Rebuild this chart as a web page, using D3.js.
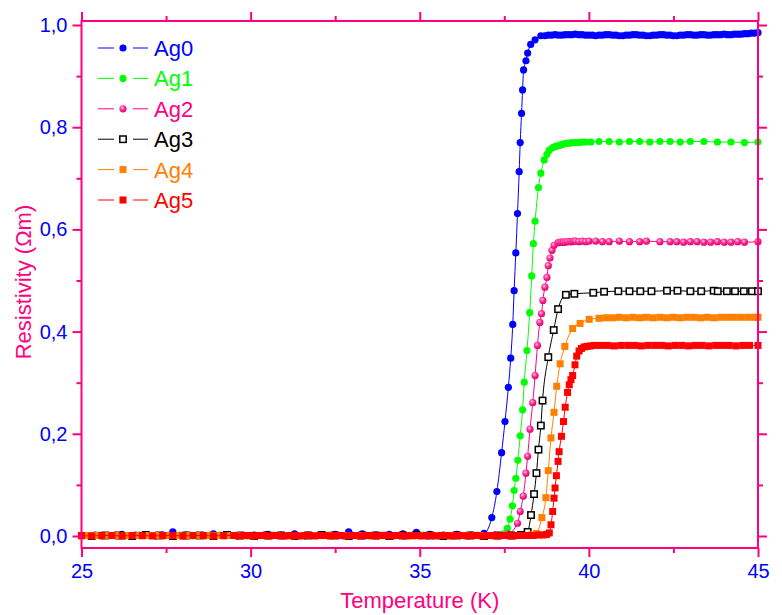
<!DOCTYPE html>
<html>
<head>
<meta charset="utf-8">
<script src="https://cdn.jsdelivr.net/npm/d3@7/dist/d3.min.js"></script>
<style>
body { margin: 0; background: #fff; }
text { font-family: "Liberation Sans", Arial, sans-serif; }
</style>
</head>
<body>
<script>

// ---- data (T in K, resistivity in Ohm m) ----
var seriesNames = ["Ag0", "Ag1", "Ag2", "Ag3", "Ag4", "Ag5"]
var seriesColors = ["#0000ff", "#00ff00", "#ff0080", "#000000", "#ff8000", "#ff0000"]
var markerKinds = ["circle", "circle", "sphere", "opensquare", "square", "square"]

var xTicks = [25, 30, 35, 40, 45]
var xMinor = [27.5, 32.5, 37.5, 42.5]
var yTicks = [0, 0.2, 0.4, 0.6, 0.8, 1.0]
var yMinor = [0.1, 0.3, 0.5, 0.7, 0.9]

var ag0 = [
[25.0,0.001],[25.4,0.002],[25.8,0.001],[26.2,0.003],[26.6,0.002],[27.0,0.001],[27.4,0.002],[27.7,0.008],
[28.1,0.002],[28.5,0.001],[28.9,0.004],[29.3,0.002],[29.7,0.001],[30.1,0.002],[30.5,0.003],[30.9,0.002],
[31.3,0.004],[31.7,0.002],[32.1,0.001],[32.5,0.003],[32.9,0.008],[33.3,0.004],[33.7,0.002],[34.1,0.003],
[34.5,0.004],[34.9,0.007],[35.3,0.003],[35.7,0.002],[36.1,0.003],[36.5,0.002],[36.9,0.005],
[37.13,0.036],[37.28,0.087],[37.42,0.163],[37.52,0.224],[37.62,0.291],[37.69,0.348],[37.75,0.414],
[37.79,0.480],[37.84,0.554],[37.89,0.631],[37.94,0.713],[37.97,0.770],[38.01,0.827],[38.04,0.873],
[38.07,0.912],[38.14,0.930],[38.19,0.945],[38.28,0.962],[38.41,0.971],[38.58,0.979],
[38.7,0.979],[38.8,0.980],[38.9,0.980],[39.0,0.981],[39.1,0.980],[39.2,0.980],[39.3,0.981],[39.4,0.981],
[39.5,0.981],[39.6,0.982],[39.7,0.981],[39.8,0.981],[39.9,0.980],[40.0,0.980],[40.1,0.980],[40.2,0.979],
[40.3,0.980],[40.4,0.980],[40.5,0.981],[40.6,0.981],[40.7,0.980],[40.8,0.980],[40.9,0.979],[41.0,0.979],
[41.1,0.980],[41.2,0.980],[41.3,0.981],[41.4,0.981],[41.5,0.980],[41.6,0.980],[41.7,0.979],[41.8,0.979],
[41.9,0.980],[42.0,0.980],[42.1,0.981],[42.2,0.981],[42.3,0.980],[42.4,0.980],[42.5,0.979],[42.6,0.979],
[42.7,0.980],[42.8,0.980],[42.9,0.981],[43.0,0.981],[43.1,0.980],[43.2,0.980],[43.3,0.981],[43.4,0.981],
[43.5,0.980],[43.6,0.980],[43.7,0.981],[43.8,0.981],[43.9,0.981],[44.0,0.982],[44.1,0.981],[44.2,0.981],
[44.3,0.982],[44.4,0.982],[44.5,0.982],[44.6,0.983],[44.7,0.983],[44.8,0.984],[44.9,0.984],[45.0,0.985]
]

var ag1 = [
[25.1,0.001],[25.5,0.002],[25.9,0.001],[26.3,0.000],[26.7,0.002],[27.1,0.001],[27.5,0.001],[27.9,0.002],
[28.3,0.000],[28.7,0.001],[29.1,0.002],[29.5,0.001],[29.9,0.000],[30.3,0.001],[30.7,0.002],[31.1,0.001],
[31.5,0.000],[31.9,0.001],[32.3,0.002],[32.7,0.001],[33.1,0.001],[33.5,0.000],[33.9,0.002],[34.3,0.001],
[34.7,0.001],[35.1,0.002],[35.5,0.001],[35.9,0.000],[36.3,0.001],[36.7,0.002],[37.1,0.001],[37.49,0.004],
[37.59,0.015],[37.67,0.033],[37.74,0.059],[37.79,0.089],[37.84,0.113],[37.90,0.148],[37.97,0.196],
[38.04,0.247],[38.09,0.301],[38.17,0.363],[38.25,0.437],[38.31,0.509],[38.36,0.572],[38.41,0.616],
[38.51,0.682],[38.58,0.710],[38.68,0.736],[38.76,0.747],[38.83,0.755],[38.93,0.760],[39.0,0.762],
[39.05,0.763],[39.1,0.764],[39.15,0.765],[39.2,0.766],[39.25,0.767],[39.3,0.768],[39.37,0.769],
[39.45,0.769],[39.5,0.770],[39.6,0.770],[39.7,0.770],[39.8,0.771],[39.9,0.771],[40.06,0.771],
[40.3,0.772],[40.6,0.772],[40.9,0.771],[41.2,0.772],[41.5,0.772],[41.8,0.771],[42.1,0.772],[42.4,0.772],
[42.7,0.771],[43.0,0.772],[43.4,0.772],[43.8,0.771],[44.2,0.771],[44.6,0.770],[45.0,0.771]
]

var ag2 = [
[25.2,0.001],[25.6,0.000],[26.0,0.002],[26.4,0.001],[26.8,0.001],[27.2,0.000],[27.6,0.002],[28.0,0.001],
[28.4,0.001],[28.8,0.002],[29.2,0.001],[29.6,0.000],[30.0,0.001],[30.4,0.002],[30.8,0.001],[31.2,0.001],
[31.6,0.000],[32.0,0.001],[32.4,0.002],[32.8,0.001],[33.2,0.000],[33.6,0.001],[34.0,0.002],[34.4,0.001],
[34.8,0.001],[35.2,0.000],[35.6,0.001],[36.0,0.002],[36.4,0.001],[36.8,0.001],[37.2,0.002],[37.6,0.004],
[37.89,0.025],[37.97,0.048],[38.06,0.078],[38.14,0.123],[38.19,0.156],[38.26,0.209],[38.34,0.261],
[38.41,0.314],[38.48,0.373],[38.55,0.418],[38.60,0.435],[38.64,0.461],[38.70,0.487],[38.76,0.506],
[38.80,0.529],[38.85,0.544],[38.91,0.559],[38.97,0.569],[39.09,0.574],[39.15,0.575],[39.2,0.575],
[39.25,0.575],[39.3,0.575],[39.37,0.576],[39.45,0.576],[39.5,0.576],[39.55,0.577],[39.6,0.577],
[39.7,0.576],[39.8,0.577],[39.9,0.576],[40.0,0.577],
[40.2,0.577],[40.4,0.576],[40.6,0.576],[40.9,0.577],[41.2,0.576],[41.5,0.576],[41.7,0.577],[42.1,0.576],
[42.4,0.576],[42.6,0.576],[42.8,0.575],[43.0,0.576],[43.2,0.576],[43.4,0.575],[43.6,0.575],[43.8,0.576],
[44.0,0.575],[44.2,0.575],[44.4,0.576],[44.6,0.575],[45.0,0.576]
]

var ag3 = [
[25.3,0.000],[25.7,0.001],[26.1,0.001],[26.5,0.000],[26.9,0.002],[27.3,0.001],[27.7,0.000],[28.1,0.001],
[28.5,0.001],[28.9,0.000],[29.3,0.002],[29.7,0.001],[30.1,0.000],[30.5,0.001],[30.9,0.001],[31.3,0.000],
[31.7,0.001],[32.1,0.002],[32.5,0.001],[32.9,0.000],[33.3,0.001],[33.7,0.001],[34.1,0.000],[34.5,0.001],
[34.9,0.002],[35.3,0.001],[35.7,0.000],[36.1,0.001],[36.5,0.001],[36.9,0.000],[37.3,0.001],[37.7,0.001],
[38.0,0.002],[38.19,0.008],[38.29,0.041],[38.38,0.082],[38.45,0.123],[38.51,0.169],[38.58,0.216],
[38.63,0.265],[38.80,0.350],[38.96,0.403],[39.09,0.444],[39.32,0.472],[39.57,0.474],[40.13,0.476],
[40.45,0.478],[40.87,0.479],[41.20,0.479],[41.52,0.479],[41.85,0.479],[42.31,0.480],[42.62,0.480],
[43.00,0.479],[43.32,0.479],[43.69,0.480],[43.81,0.479],[44.08,0.479],[44.32,0.479],[44.58,0.479],
[44.82,0.479],[45.0,0.479]
]

var ag4 = [
[25.0,0.000],[25.2,0.001],[25.4,0.001],[25.6,0.000],[25.8,0.001],[26.0,0.001],[26.2,0.000],[26.4,0.001],
[26.6,0.001],[26.8,0.000],[27.0,0.001],[27.2,0.001],[27.4,0.000],[27.6,0.001],[27.8,0.001],[28.0,0.000],
[28.2,0.001],[28.4,0.001],[28.6,0.000],[28.8,0.001],[29.0,0.001],[29.2,0.000],[29.4,0.001],[29.6,0.001],
[30.0,0.000],[30.4,0.001],[30.8,0.001],[31.2,0.000],[31.6,0.001],[32.0,0.001],[32.4,0.000],[32.8,0.001],
[33.2,0.001],[33.6,0.000],[34.0,0.001],[34.4,0.001],[34.8,0.000],[35.2,0.001],[35.6,0.001],[36.0,0.000],
[36.4,0.001],[36.8,0.001],[37.2,0.000],[37.6,0.001],[38.0,0.001],[38.3,0.002],[38.45,0.005],
[38.61,0.036],[38.73,0.075],[38.80,0.128],[38.88,0.192],
[38.97,0.242],[39.05,0.293],[39.15,0.337],[39.29,0.371],[39.52,0.406],[39.74,0.416],[40.01,0.424],
[40.3,0.426],[40.5,0.427],[40.7,0.427],[40.9,0.428],[41.1,0.427],[41.3,0.428],[41.5,0.427],[41.7,0.428],
[41.9,0.427],[42.1,0.428],[42.3,0.427],[42.5,0.428],[42.7,0.427],[42.9,0.428],[43.1,0.428],[43.3,0.427],
[43.5,0.428],[43.7,0.427],[43.9,0.428],[44.1,0.428],[44.3,0.428],[44.5,0.428],[44.7,0.428],[44.9,0.428],[45.0,0.428]
]

var ag5 = [
[25.0,0.001],[25.3,0.000],[25.6,0.001],[25.9,0.001],[26.2,0.000],[26.5,0.001],[26.8,0.001],[27.1,0.000],
[27.4,0.001],[27.7,0.001],[28.0,0.000],[28.3,0.001],[28.6,0.001],[28.9,0.000],[29.2,0.001],
[29.50,0.001],[29.65,0.000],[29.80,0.001],[29.95,0.001],[30.10,0.000],[30.25,0.001],[30.40,0.001],
[30.55,0.000],[30.70,0.001],[30.85,0.001],[31.00,0.000],[31.15,0.001],[31.30,0.001],[31.45,0.000],
[31.60,0.001],[31.75,0.001],[31.90,0.000],[32.05,0.001],[32.20,0.001],[32.35,0.000],[32.50,0.001],
[32.65,0.001],[32.80,0.000],[32.95,0.001],[33.10,0.001],[33.25,0.000],[33.40,0.001],[33.55,0.001],
[33.70,0.000],[33.85,0.001],[34.00,0.001],[34.15,0.000],[34.30,0.001],[34.45,0.001],[34.60,0.000],
[34.75,0.001],[34.90,0.001],[35.05,0.000],[35.20,0.001],[35.35,0.001],[35.50,0.000],[35.65,0.001],
[35.80,0.001],[35.95,0.000],[36.10,0.001],[36.25,0.001],[36.40,0.000],[36.55,0.001],[36.70,0.001],
[36.85,0.000],[37.00,0.001],[37.15,0.001],[37.30,0.000],[37.45,0.001],[37.60,0.001],[37.75,0.000],
[37.90,0.001],[38.05,0.001],[38.20,0.001],[38.35,0.001],[38.50,0.002],[38.65,0.002],[38.75,0.003],
[38.83,0.006],[38.88,0.022],[38.93,0.048],[38.97,0.074],[39.00,0.094],[39.04,0.118],[39.09,0.146],
[39.12,0.165],[39.19,0.195],[39.25,0.224],[39.30,0.252],[39.37,0.281],[39.42,0.296],[39.47,0.306],
[39.52,0.314],[39.59,0.335],[39.64,0.352],[39.71,0.362],[39.78,0.367],[39.86,0.370],[39.95,0.371],
[40.05,0.372],[40.16,0.373],[40.35,0.373],[40.55,0.373],[40.75,0.372],[40.95,0.373],[41.15,0.373],
[41.35,0.373],[41.55,0.372],[41.75,0.373],[41.95,0.373],[42.15,0.373],[42.35,0.372],[42.55,0.373],
[42.75,0.373],[42.95,0.372],[43.15,0.373],[43.35,0.373],[43.55,0.372],[43.75,0.373],[43.95,0.373],
[44.15,0.373],[44.35,0.372],[44.55,0.373],[44.75,0.373],[45.0,0.373]
]

var seriesData = [ag0, ag1, ag2, ag3, ag4, ag5]

// ---- layout ----
var W = 782, H = 615
var pink = "#ff0080", tickBlue = "#0000ff"

var svg = d3.select("body").append("svg").attr("width", W).attr("height", H)

var x = d3.scaleLinear().domain([25, 45]).range([81.5, 758])
var y = d3.scaleLinear().domain([0, 1]).range([536, 25])
var frameTop = 21, frameBottom = 548

var defs = svg.append("defs")
var grad = defs.append("radialGradient").attr("id", "sphere")
  .attr("cx", "40%").attr("cy", "35%").attr("r", "65%")
grad.append("stop").attr("offset", "0%").attr("stop-color", "#ffd0e6")
grad.append("stop").attr("offset", "45%").attr("stop-color", "#ff3399")
grad.append("stop").attr("offset", "100%").attr("stop-color", "#e0006e")

defs.append("clipPath").attr("id", "clip").append("rect")
  .attr("x", x(25) - 4).attr("y", frameTop).attr("width", x(45) - x(25) + 8).attr("height", frameBottom - frameTop)

function drawMarker(g, kind, color, cx, cy) {
  if (kind == "circle") {
    g.append("circle").attr("cx", cx).attr("cy", cy).attr("r", 3.6).attr("fill", color)
  } else if (kind == "sphere") {
    g.append("circle").attr("cx", cx).attr("cy", cy).attr("r", 3.6).attr("fill", "url(#sphere)")
  } else if (kind == "opensquare") {
    g.append("rect").attr("x", cx - 3.2).attr("y", cy - 3.2).attr("width", 6.4).attr("height", 6.4)
      .attr("fill", "#fff").attr("stroke", color).attr("stroke-width", 1.5)
  } else {
    g.append("rect").attr("x", cx - 3.5).attr("y", cy - 3.5).attr("width", 7).attr("height", 7).attr("fill", color)
  }
}

// ---- series ----
var line = d3.line().curve(d3.curveMonotoneX)
  .x(function(d) {return x(d[0])}).y(function(d) {return y(d[1])})
var plot = svg.append("g").attr("clip-path", "url(#clip)")

seriesData.forEach(function(data, i) {
  var g = plot.append("g").attr("class", "series")
  g.append("path").datum(data)
    .attr("d", line)
    .attr("fill", "none")
    .attr("stroke", seriesColors[i])
    .attr("stroke-width", 1)
  data.forEach(function(d) {
    drawMarker(g, markerKinds[i], seriesColors[i], x(d[0]), y(d[1]))
  })
})

// ---- axes ----
var fmt = function(d) {return d3.format(".1f")(d).replace(".", ",")}

function styleAxis(g) {
  g.select(".domain").remove()
  g.selectAll("line").attr("stroke", pink).attr("stroke-width", 2)
  g.selectAll("text").attr("fill", tickBlue).attr("font-size", "20px")
    .attr("font-family", "Liberation Sans, Arial, sans-serif")
}

svg.append("g").attr("transform", "translate(0," + frameBottom + ")")
  .call(d3.axisBottom(x).tickValues(xTicks).tickSize(9).tickPadding(7).tickFormat(d3.format("d")))
  .call(styleAxis)
svg.append("g").attr("transform", "translate(0," + frameBottom + ")")
  .call(d3.axisBottom(x).tickValues(xMinor).tickSize(5).tickFormat(""))
  .call(styleAxis)
svg.append("g").attr("transform", "translate(0," + frameTop + ")")
  .call(d3.axisTop(x).tickValues(xTicks).tickSize(9).tickFormat(""))
  .call(styleAxis)
svg.append("g").attr("transform", "translate(0," + frameTop + ")")
  .call(d3.axisTop(x).tickValues(xMinor).tickSize(5).tickFormat(""))
  .call(styleAxis)

svg.append("g").attr("transform", "translate(" + x(25) + ",0)")
  .call(d3.axisLeft(y).tickValues(yTicks).tickSize(9).tickPadding(5).tickFormat(fmt))
  .call(styleAxis)
svg.append("g").attr("transform", "translate(" + x(25) + ",0)")
  .call(d3.axisLeft(y).tickValues(yMinor).tickSize(5).tickFormat(""))
  .call(styleAxis)
svg.append("g").attr("transform", "translate(" + x(45) + ",0)")
  .call(d3.axisRight(y).tickValues(yTicks).tickSize(9).tickFormat(""))
  .call(styleAxis)
svg.append("g").attr("transform", "translate(" + x(45) + ",0)")
  .call(d3.axisRight(y).tickValues(yMinor).tickSize(5).tickFormat(""))
  .call(styleAxis)

// frame
svg.append("rect")
  .attr("x", x(25)).attr("y", frameTop)
  .attr("width", x(45) - x(25)).attr("height", frameBottom - frameTop)
  .attr("fill", "none").attr("stroke", pink).attr("stroke-width", 2)

// axis titles
svg.append("text")
  .attr("x", (x(25) + x(45)) / 2).attr("y", 608)
  .attr("text-anchor", "middle")
  .attr("font-size", "22px").attr("fill", pink)
  .text("Temperature (K)")

svg.append("text")
  .attr("transform", "translate(31,282) rotate(-90)")
  .attr("text-anchor", "middle")
  .attr("font-size", "22px").attr("fill", pink)
  .text("Resistivity (Ωm)")

// ---- legend ----
var legend = svg.selectAll(".legend").data(seriesNames)
  .enter().append("g")
  .attr("class", "legend")
  .attr("transform", function(d, i) {return "translate(0," + (48 + i * 30.4) + ")"})

legend.each(function(d, i) {
  var g = d3.select(this)
  g.append("line").attr("x1", 98).attr("x2", 114).attr("y1", 0).attr("y2", 0)
    .attr("stroke", seriesColors[i]).attr("stroke-width", 1)
  g.append("line").attr("x1", 133).attr("x2", 148).attr("y1", 0).attr("y2", 0)
    .attr("stroke", seriesColors[i]).attr("stroke-width", 1)
  drawMarker(g, markerKinds[i], seriesColors[i], 123, 0)
  g.append("text").attr("x", 154).attr("y", 8)
    .attr("font-size", "22px").attr("fill", seriesColors[i])
    .text(d)
})

</script>
</body>
</html>
